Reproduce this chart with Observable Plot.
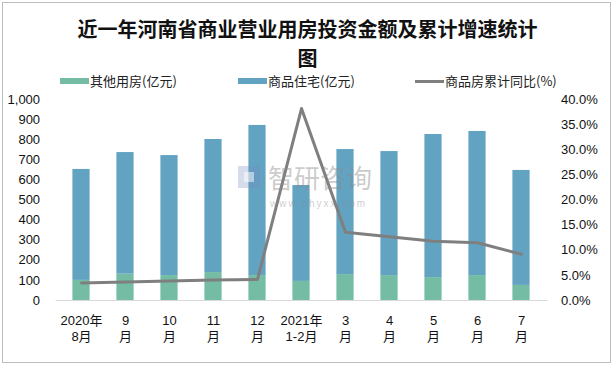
<!DOCTYPE html>
<html>
<head>
<meta charset="utf-8">
<script src="https://cdn.jsdelivr.net/npm/d3@7"></script>
<script src="https://cdn.jsdelivr.net/npm/@observablehq/plot@0.6"></script>
<style>
  html, body { margin: 0; padding: 0; background: #fff; }
  #wrap { position: relative; width: 615px; height: 367px; overflow: hidden; font-family: "Liberation Sans", "Noto Sans CJK SC", sans-serif; }
  #border { position: absolute; left: 2px; top: 2px; width: 607px; height: 359px; border: 1px solid #bdbdbd; }
  .title { position: absolute; left: 0; width: 615px; text-align: center; font-family: "Noto Sans CJK SC", sans-serif; font-weight: 700; font-size: 20px; line-height: 29px; height: 29px; color: #111; }
  .lg { position: absolute; top: 73px; font-family: "Noto Sans CJK SC", sans-serif; font-size: 13px; line-height: 16px; color: #222; white-space: nowrap; }
  .sw { position: absolute; }
  #chart { position: absolute; left: 0; top: 90px; }
  #wm { position: absolute; left: 268px; top: 163px; font-family: "Noto Sans CJK SC", sans-serif; font-size: 26px; line-height: 28px; height: 28px; color: rgba(140,140,140,0.45); white-space: nowrap; pointer-events: none; }
  #wmurl { position: absolute; left: 270px; top: 198px; font-family: "Liberation Sans", sans-serif; font-size: 10px; line-height: 11px; letter-spacing: 2px; color: rgba(140,140,140,0.45); white-space: nowrap; }
  #logo1 { position: absolute; left: 238px; top: 166px; width: 22px; height: 22px; background: rgba(120,140,190,0.30); }
  #logo2 { position: absolute; left: 244px; top: 172px; width: 10px; height: 10px; background: rgba(255,255,255,0.5); }
</style>
</head>
<body>
<div id="wrap">
  <div id="border"></div>
  <div class="title" style="top:14px">近一年河南省商业营业用房投资金额及累计增速统计</div>
  <div class="title" style="top:43px">图</div>
  <div id="legend"></div>
  <div id="chart"></div>
  <div id="logo1"></div><div id="logo2"></div>
  <div id="wm">智研咨询</div>
  <div id="wmurl">www.chyxx.com</div>
</div>
<script>
const months = ["2020年\n8月", "9\n月", "10\n月", "11\n月", "12\n月", "2021年\n1-2月", "3\n月", "4\n月", "5\n月", "6\n月", "7\n月"];
const seriesNames = ["其他用房(亿元)", "商品住宅(亿元)"];
const lineName = "商品房累计同比(%)";
const otherValues = [100, 131, 124, 139, 124, 95, 129, 124, 114, 124, 75];
const housingValues = [552, 605, 597, 662, 747, 477, 622, 617, 712, 717, 572];
const growthValues = [3.5, 3.7, 3.9, 4.1, 4.2, 38.2, 13.6, 12.7, 11.8, 11.5, 9.2];
const leftTicks = [0, 100, 200, 300, 400, 500, 600, 700, 800, 900, 1000];
const rightTicks = [0, 5, 10, 15, 20, 25, 30, 35, 40];

const colors = ["#74bda4", "#62a3c2"];
const lineColor = "#7f7f7f";
const ratio = 1000 / 40; // right axis % -> left axis units

const bars = months.flatMap((m, i) => [
  {month: m, series: seriesNames[0], value: otherValues[i]},
  {month: m, series: seriesNames[1], value: housingValues[i]}
]);
const line = months.map((m, i) => ({month: m, g: growthValues[i]}));

const chart = Plot.plot({
  width: 615,
  height: 270,
  marginTop: 9,
  marginBottom: 60,
  marginLeft: 55.6,
  marginRight: 67.6,
  style: {fontFamily: "'Liberation Sans', 'Noto Sans CJK SC', sans-serif", fontSize: "13px", color: "#111", background: "transparent", overflow: "visible"},
  x: {domain: months, padding: 0, label: null},
  y: {domain: [0, 1000], label: null},
  color: {domain: seriesNames, range: colors},
  marks: [
    Plot.barY(bars, {x: "month", y: "value", fill: "series", insetLeft: 13.4, insetRight: 13.4}),
    Plot.ruleY([0], {stroke: "#d9d9d9", strokeWidth: 1}),
    Plot.line(line, {x: "month", y: d => d.g * ratio, stroke: lineColor, strokeWidth: 3}),
    Plot.axisY({ticks: leftTicks, tickFormat: d3.format(","), tickSize: 0, tickPadding: 16, label: null}),
    Plot.axisY({anchor: "right", ticks: rightTicks.map(t => t * ratio), tickFormat: d => (d / ratio).toFixed(1) + "%", tickSize: 0, tickPadding: 13, label: null}),
    Plot.axisX({tickSize: 0, tickPadding: 12, label: null, lineHeight: 1.3})
  ]
});
document.getElementById("chart").appendChild(chart);

// legend
const legend = document.getElementById("legend");
const items = [
  {label: seriesNames[0], color: colors[0], x: 60, type: "rect"},
  {label: seriesNames[1], color: colors[1], x: 238, type: "rect"},
  {label: lineName, color: lineColor, x: 415, type: "line"}
];
for (const it of items) {
  const sw = document.createElement("div");
  sw.className = "sw";
  sw.style.left = it.x + "px";
  sw.style.width = "29px";
  if (it.type === "rect") { sw.style.top = "78px"; sw.style.height = "6px"; }
  else { sw.style.top = "80px"; sw.style.height = "3px"; }
  sw.style.background = it.color;
  legend.appendChild(sw);
  const t = document.createElement("div");
  t.className = "lg";
  t.style.left = (it.x + 30) + "px";
  t.textContent = it.label;
  legend.appendChild(t);
}
</script>
</body>
</html>
